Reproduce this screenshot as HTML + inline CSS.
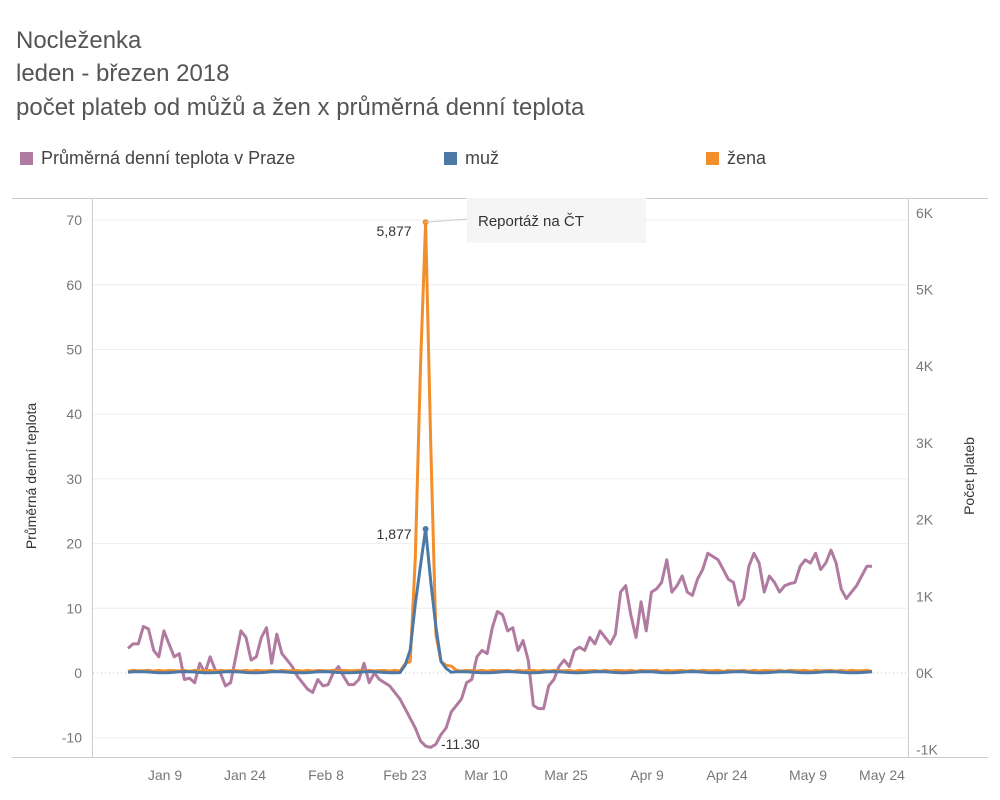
<!DOCTYPE html>
<html><head><meta charset="utf-8"><style>
body{margin:0;background:#fff;font-family:"Liberation Sans",sans-serif;}
#c{position:relative;width:1000px;height:800px;overflow:hidden}
.t{position:absolute;left:16px;color:#555;font-size:24px}
.lg{position:absolute;top:148px;font-size:18px;color:#444}
.lg i{display:inline-block;width:13px;height:13px;margin-right:8px;vertical-align:-1px}
</style></head><body><div id="c">
<div class="t" style="top:27px">Nocleženka</div>
<div class="t" style="top:60px">leden - březen 2018</div>
<div class="t" style="top:94px">počet plateb od můžů a žen x průměrná denní teplota</div>
<div class="lg" style="left:20px"><i style="background:#b07aa1"></i>Průměrná denní teplota v Praze</div>
<div class="lg" style="left:444px"><i style="background:#4e79a7"></i>muž</div>
<div class="lg" style="left:706px"><i style="background:#f28e2b"></i>žena</div>
<svg id="s" width="1000" height="800" style="position:absolute;left:0;top:0" font-family="Liberation Sans, sans-serif"></svg>
</div>
<script>
const s=document.getElementById('s');let h='';
h+='<line x1="12" y1="198.5" x2="988" y2="198.5" stroke="#ccc"/>';
h+='<line x1="92.5" y1="198" x2="92.5" y2="757" stroke="#ccc"/>';
h+='<line x1="908.5" y1="198" x2="908.5" y2="757" stroke="#ccc"/>';
h+='<line x1="12" y1="757.5" x2="988" y2="757.5" stroke="#ccc"/>';
const ty=v=>673-v*6.47;
for(let v=-10;v<=70;v+=10){const y=ty(v);
 if(v!=0)h+=`<line x1="93" x2="908" y1="${y}" y2="${y}" stroke="#eee"/>`;
 h+=`<text x="82" y="${y+5}" text-anchor="end" font-size="14" fill="#777">${v}</text>`;}
h+=`<line x1="93" x2="908" y1="673" y2="673" stroke="#bbb" stroke-dasharray="1,3"/>`;
for(let k=-1;k<=6;k++){const y=673-k*76.7;h+=`<text x="916" y="${y+5}" font-size="14" fill="#777">${k}K</text>`;}
[["Jan 9",165],["Jan 24",245],["Feb 8",326],["Feb 23",405],["Mar 10",486],["Mar 25",566],["Apr 9",647],["Apr 24",727],["May 9",808],["May 24",882]].forEach(([t,x])=>h+=`<text x="${x}" y="780" text-anchor="middle" font-size="14" fill="#777">${t}</text>`);
h+='<text transform="translate(36,476) rotate(-90)" text-anchor="middle" font-size="14" fill="#333">Průměrná denní teplota</text>';
h+='<text transform="translate(974,476) rotate(-90)" text-anchor="middle" font-size="14" fill="#333">Počet plateb</text>';
const T=[3.8,4.5,4.5,7.2,6.8,3.5,2.5,6.5,4.5,2.5,3,-1,-0.8,-1.5,1.5,0,2.5,0.5,0,-2,-1.5,2.5,6.5,5.5,2,2.5,5.5,7,1.5,6,3,2,1,-0.5,-1.5,-2.5,-3,-1,-2,-1.8,0,1,-0.5,-1.8,-1.8,-1,1.5,-1.5,0,-1,-1.5,-2,-3,-4,-5.5,-7,-8.5,-10.5,-11.3,-11.5,-11,-9.5,-8.5,-6,-5,-4,-1.5,-1,2.5,3.5,3,7,9.5,9,6.5,7,3.5,5,2,-5,-5.5,-5.5,-2,-1,1,2,1,3.5,4,3.5,5.5,4.5,6.5,5.5,4.5,6,12.5,13.5,9,5.5,11,6.5,12.5,13,14,17.5,12.5,13.5,15,12.5,12,14.5,16,18.5,18,17.5,16,14.5,14,10.5,11.5,16.5,18.5,17,12.5,15,14,12.5,13.5,13.8,14,16.5,17.5,17,18.5,16,17,19,17,13,11.5,12.5,13.5,15,16.5,16.5];
const n=T.length,x=i=>128+i*(872-128)/(n-1);
const pk=Math.round((428-128)/(744/(n-1)));
let M=[],Z=[];for(let i=0;i<n;i++){M.push(10+8*Math.sin(i*0.7));Z.push(20+15*Math.abs(Math.sin(i*1.3)));}
const mp={"-4":100,"-3":300,"-2":900,"-1":1400,"0":1877,"1":1200,"2":600,"3":150,"4":60};
const zp={"-4":120,"-3":150,"-2":1500,"-1":4000,"0":5877,"1":3000,"2":500,"3":150,"4":100,"5":90};
for(const k in mp)M[pk+ +k]=mp[k];for(const k in zp)Z[pk+ +k]=zp[k];
const ry=v=>673-v/1000*76.7;
const path=(a,f,c)=>`<polyline fill="none" stroke="${c}" stroke-width="3" stroke-linejoin="round" points="${a.map((v,i)=>x(i).toFixed(1)+','+f(v).toFixed(1)).join(' ')}"/>`;
h+=path(T,ty,"#b07aa1");h+=path(Z,ry,"#f28e2b");h+=path(M,ry,"#4e79a7");
const px=x(pk);
h+=`<circle cx="${px}" cy="${ry(5877)}" r="3" fill="#f28e2b"/><circle cx="${px}" cy="${ry(1877)}" r="3" fill="#4e79a7"/>`;
h+=`<text x="${px-14}" y="${ry(5877)+14}" text-anchor="end" font-size="14" fill="#333">5,877</text>`;
h+=`<text x="${px-14}" y="${ry(1877)+10}" text-anchor="end" font-size="14" fill="#333">1,877</text>`;
h+=`<text x="441" y="749" font-size="14" fill="#333">-11.30</text>`;
h+=`<rect x="467" y="198" width="179" height="45" fill="#f5f5f5"/><line x1="${px}" y1="${ry(5877)}" x2="467" y2="219" stroke="#ccc"/>`;
h+=`<text x="478" y="226" font-size="15" fill="#333">Reportáž na ČT</text>`;
s.innerHTML=h;
</script></body></html>
